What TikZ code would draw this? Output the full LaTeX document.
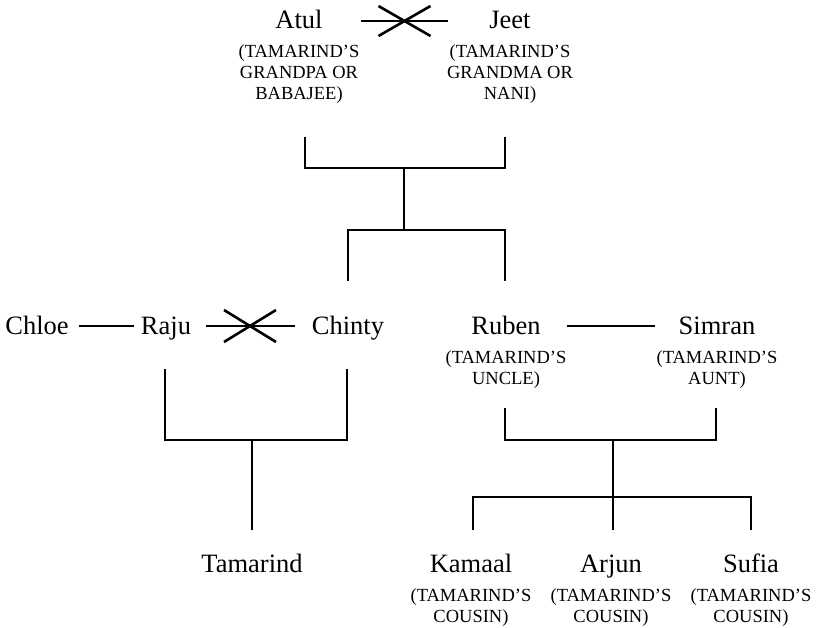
\documentclass[tikz,border=0pt]{standalone}
\usepackage{fontspec}
\setmainfont{Liberation Serif}
\usetikzlibrary{calc}
\tikzset{
  person/.style={font=\fontsize{26.5}{30}\selectfont, inner sep=0pt, text height=23pt, text depth=6pt},
  note/.style={font=\fontsize{18.5}{21}\selectfont, inner sep=0pt, align=center},
  link/.style={line width=2.8pt, line cap=butt},
  crossline/.style={line width=2.6pt, line cap=butt}
}
\begin{document}
\begin{tikzpicture}[x=1pt,y=-1pt]
\useasboundingbox (0,0) rectangle (818,627);
% generation 1
\node[person] (atul) at (299,20) {Atul};
\node[person] (jeet) at (510,20) {Jeet};
\node[note] (atulc) at (299,74) {(TAMARIND’S\\GRANDPA OR\\BABAJEE)};
\node[note] (jeetc) at (510,74) {(TAMARIND’S\\GRANDMA OR\\NANI)};
% generation 2
\node[person] (chloe) at (37,326) {Chloe};
\node[person] (raju) at (166,326) {Raju};
\node[person] (chinty) at (348,326) {Chinty};
\node[person] (ruben) at (506,326) {Ruben};
\node[person] (simran) at (717,326) {Simran};
\node[note] (rubenc) at (506,370) {(TAMARIND’S\\UNCLE)};
\node[note] (simranc) at (717,370) {(TAMARIND’S\\AUNT)};
% generation 3
\node[person] (tamarind) at (252,564) {Tamarind};
\node[person] (kamaal) at (471,564) {Kamaal};
\node[person] (arjun) at (611,564) {Arjun};
\node[person] (sufia) at (751,564) {Sufia};
\node[note] (kamaalc) at (471,608) {(TAMARIND’S\\COUSIN)};
\node[note] (arjunc) at (611,608) {(TAMARIND’S\\COUSIN)};
\node[note] (sufiac) at (751,608) {(TAMARIND’S\\COUSIN)};

% marriages
\draw[link] ([xshift=62pt,yshift=-1pt]atul.center) -- ([xshift=-62pt,yshift=-1pt]jeet.center);
\coordinate (x1) at ($(atul)!0.5!(jeet)+(0,1)$);
\draw[crossline] ([shift={(-26,-15)}]x1) -- ([shift={(26,15)}]x1);
\draw[crossline] ([shift={(-26,15)}]x1) -- ([shift={(26,-15)}]x1);

\draw[link] ([xshift=42pt]chloe.center) -- ([xshift=-32pt]raju.center);
\draw[link] ([xshift=40pt]raju.center) -- ([xshift=-53pt]chinty.center);
\coordinate (x2) at ([xshift=84pt]raju.center);
\draw[crossline] ([shift={(-26,-16)}]x2) -- ([shift={(26,16)}]x2);
\draw[crossline] ([shift={(-26,16)}]x2) -- ([shift={(26,-16)}]x2);

\draw[link] ([xshift=61pt]ruben.center) -- ([xshift=-62pt]simran.center);

% Atul + Jeet -> children
\coordinate (a1) at (305,137); \coordinate (a2) at (505,137);
\coordinate (a3) at (404,168); \coordinate (a4) at (404,230);
\coordinate (a5) at (348,281); \coordinate (a6) at (505,281);
\draw[link] (a1) |- (a3) -| (a2);
\draw[link] (a3) -- (a4);
\draw[link] (a5) |- (a4) -| (a6);

% Raju + Chinty -> Tamarind
\coordinate (r1) at (165,369); \coordinate (r2) at (347,369);
\coordinate (r3) at (252,440); \coordinate (r4) at (252,530);
\draw[link] (r1) |- (r3) -| (r2);
\draw[link] (r3) -- (r4);

% Ruben + Simran -> cousins
\coordinate (s1) at (505,408); \coordinate (s2) at (716,408);
\coordinate (s3) at (613,440); \coordinate (s4) at (613,497);
\coordinate (k1) at (473,530); \coordinate (k2) at (613,530); \coordinate (k3) at (751,530);
\draw[link] (s1) |- (s3) -| (s2);
\draw[link] (s3) -- (s4);
\draw[link] (k1) |- (s4) -| (k3);
\draw[link] (s4) -- (k2);
\end{tikzpicture}
\end{document}
